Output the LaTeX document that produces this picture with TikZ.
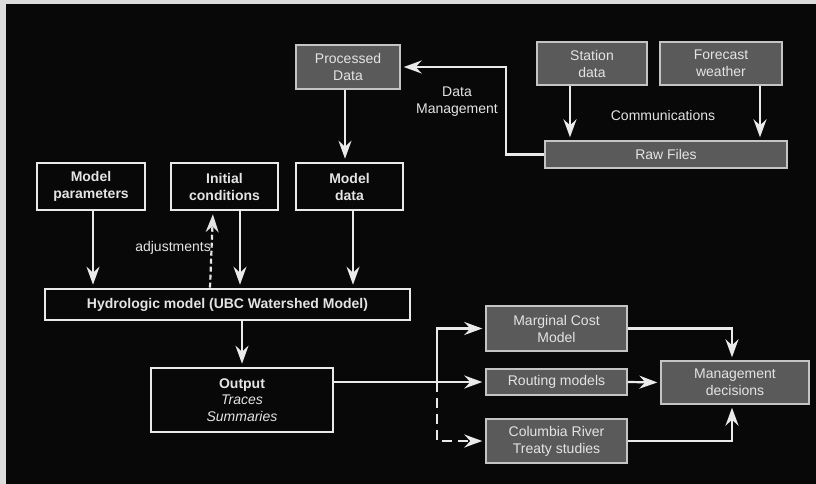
\documentclass[tikz,border=0pt]{standalone}
\usepackage{fontspec}
\setmainfont{Liberation Sans}
\usetikzlibrary{arrows.meta,positioning}
\definecolor{pagegray}{HTML}{DCDCDC}
\definecolor{bg}{HTML}{080808}
\definecolor{boxfill}{HTML}{5A5A5A}
\definecolor{boxline}{HTML}{C4C4C4}
\definecolor{ink}{HTML}{E4E4E4}
\definecolor{wire}{HTML}{EAEAEA}
\begin{document}
\begin{tikzpicture}[x=1pt,y=-1pt,
  every node/.style={font=\fontsize{14}{17}\selectfont, text=ink, align=center, inner sep=0pt},
  graybox/.style={draw=boxline, line width=1.4pt, fill=boxfill},
  whitebox/.style={draw=wire, line width=2.6pt, fill=bg, font=\fontsize{14}{17}\selectfont\bfseries},
  label/.style={text=ink},
  arr/.style={draw=wire, line width=2.2pt, shorten >=3pt,
    -{Stealth[length=18pt,width=13pt,inset=6pt]}},
  dashy/.style={dash pattern=on 5pt off 3pt},
  dashlong/.style={dash pattern=on 10pt off 6pt}
]
% page and backdrop
\fill[pagegray] (0,0) rectangle (816,484);
\fill[bg] (6,4) rectangle (816,484);
\useasboundingbox (0,0) rectangle (816,484);

% data acquisition boxes
\node[graybox, minimum width=104pt, minimum height=44pt] (proc) at (348,67) {Processed\\Data};
\node[graybox, minimum width=110pt, minimum height=43pt] (station) at (592,63.5) {Station\\data};
\node[graybox, minimum width=122pt, minimum height=43pt] (forecast) at (721,63.5) {Forecast\\weather};
\node[graybox, minimum width=242pt, minimum height=27pt] (raw) at (666,154.5) {Raw Files};

% model inputs
\node[whitebox, minimum width=108pt, minimum height=47pt] (params) at (91,186.5) {Model\\parameters};
\node[whitebox, minimum width=107pt, minimum height=47pt] (init) at (224.5,186.5) {Initial\\conditions};
\node[whitebox, minimum width=107pt, minimum height=47pt] (mdata) at (349.5,186.5) {Model\\data};

% model and output
\node[whitebox, minimum width=365pt, minimum height=31pt] (hydro) at (227.5,304.5) {Hydrologic model (UBC Watershed Model)};
\node[whitebox, minimum width=182pt, minimum height=64pt] (output) at (242,400)
  {Output\\[-0.5pt]\normalfont\itshape Traces\\[-0.5pt]\normalfont\itshape Summaries};

% downstream studies
\node[graybox, minimum width=141pt, minimum height=45pt] (marg) at (556.5,328.5) {Marginal Cost\\Model};
\node[graybox, minimum width=141pt, minimum height=26pt] (route) at (556.5,382) {Routing models};
\node[graybox, minimum width=141pt, minimum height=44pt] (col) at (556.5,441) {Columbia River\\Treaty studies};
\node[graybox, minimum width=148pt, minimum height=43pt] (mgmt) at (735,382.5) {Management\\decisions};

% text labels
\node[label] (dmlab) at (457,102) {Data\\Management};
\node[label] (commlab) at (663,115) {Communications};
\node[label, anchor=east] (adjlab) at (211,248) {adjustments};

% data flow
\draw[arr] (raw.west) -- ++(-38,0) |- (proc.east);
\draw[arr] ([xshift=-22pt]station.south) -- ([xshift=-22pt]station.south |- raw.north);
\draw[arr] ([xshift=39pt]forecast.south) -- ([xshift=39pt]forecast.south |- raw.north);
\draw[arr] ([xshift=-3pt]proc.south) -- ([xshift=-3pt]proc.south |- mdata.north);

% inputs to the model
\draw[arr] ([xshift=2pt]params.south) -- ([xshift=2pt]params.south |- hydro.north);
\draw[arr] ([xshift=15.5pt]init.south) -- ([xshift=15.5pt]init.south |- hydro.north);
\draw[arr] ([xshift=3.5pt]mdata.south) -- ([xshift=3.5pt]mdata.south |- hydro.north);
\draw[arr, dashy, draw=ink] ([xshift=-14.5pt]hydro.north -| init.south) -- ([xshift=-11.5pt]init.south);

% model to output
\draw[arr] ([xshift=14.5pt]hydro.south) -- ([xshift=14.5pt]hydro.south |- output.north);

% output to studies
\coordinate (br) at (437,382);
\draw[arr] (output.east |- route.west) -- (route.west);
\draw[arr] (br) |- (marg.west);
\draw[arr, dashlong] (br) |- (col.west);

% studies to decisions
\draw[arr] (marg.east) -| ([xshift=-3pt]mgmt.north);
\draw[arr] (route.east) -- (mgmt.west);
\draw[arr] (col.east) -| ([xshift=-3pt]mgmt.south);
\end{tikzpicture}
\end{document}
